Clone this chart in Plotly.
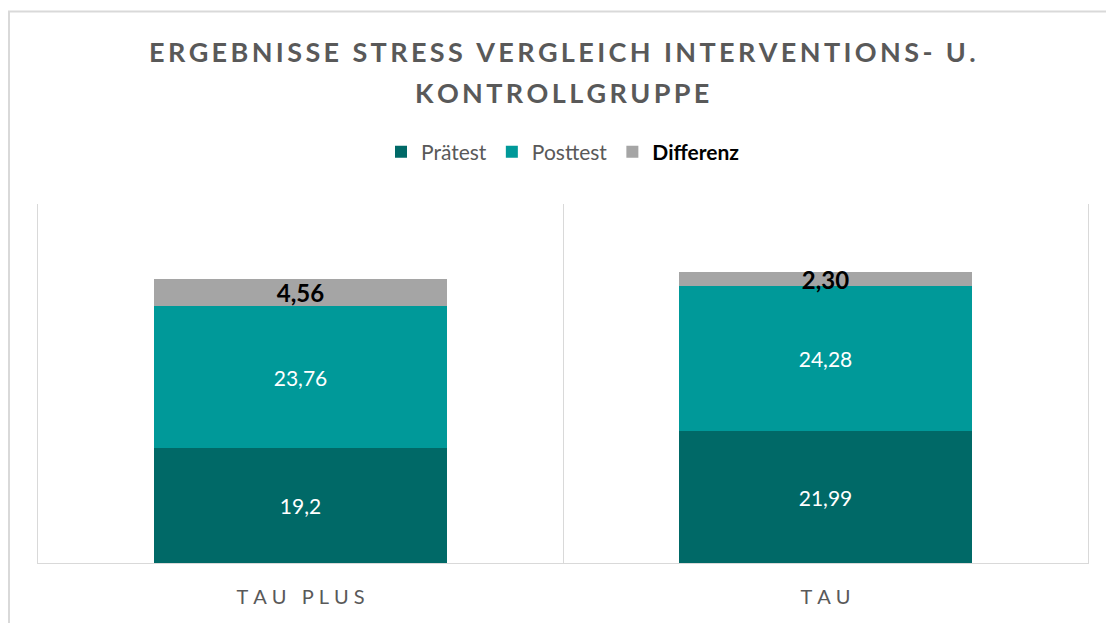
import plotly.graph_objects as go

categories = ["TAU PLUS", "TAU"]
pretest = [19.2, 21.99]
posttest = [23.76, 24.28]
differenz = [4.56, 2.30]
series_names = ["Prätest", "Posttest", "Differenz"]
title_lines = ["ERGEBNISSE STRESS VERGLEICH INTERVENTIONS- U.", "KONTROLLGRUPPE"]

C_PRE = "#006967"
C_POST = "#009999"
C_DIFF = "#A5A5A5"
GRAY_TXT = "#595959"
GRID = "#D9D9D9"
FONT = "Lato"

W, H = 1106, 623
ML, MR, MT, MB = 38, 18, 204, 60
PH = H - MT - MB


def spaced(s, sep="\u2005"):
    return sep.join(list(s))


def py(pix):
    return (H - MB - pix) / PH


def px(pix):
    return (pix - ML) / (W - ML - MR)


fig = go.Figure()
fig.add_trace(go.Bar(
    x=categories, y=pretest, name=series_names[0], marker_color=C_PRE,
    texttemplate="%{y:.2~f}", textposition="inside", insidetextanchor="middle",
    textfont=dict(color="white", size=21, family=FONT), textangle=0,
    marker_line_width=0,
))
fig.add_trace(go.Bar(
    x=categories, y=posttest, name=series_names[1], marker_color=C_POST,
    texttemplate="%{y:.2~f}", textposition="inside", insidetextanchor="middle",
    textfont=dict(color="white", size=21, family=FONT), textangle=0,
    marker_line_width=0,
))
fig.add_trace(go.Bar(
    x=categories, y=differenz, name="<b><span style='color:#000000'>" + series_names[2] + "</span></b>",
    marker_color=C_DIFF,
    texttemplate="<b>%{y:.2f}</b>", textposition="inside", insidetextanchor="middle",
    constraintext="none", cliponaxis=False,
    textfont=dict(color="black", size=24, family=FONT), textangle=0,
    marker_line_width=0,
))

fig.update_layout(
    width=W, height=H,
    barmode="stack", bargap=0.443,
    separators=",.",
    paper_bgcolor="white", plot_bgcolor="white",
    margin=dict(l=ML, r=MR, t=MT, b=MB),
    font=dict(family=FONT, color=GRAY_TXT),
    showlegend=True,
    legend=dict(orientation="h", x=0.5, xanchor="center", y=py(152), yanchor="middle",
                font=dict(size=21, color=GRAY_TXT, family=FONT), itemwidth=30,
                traceorder="normal", tracegroupgap=0),
    xaxis=dict(
        type="category", range=[-0.5, 1.5], showgrid=True, gridcolor=GRID, gridwidth=1,
        tickson="boundaries", ticks="", showline=True, linecolor=GRID, linewidth=1,
        tickvals=categories, ticktext=[spaced(c) for c in categories],
        tickfont=dict(size=20, color=GRAY_TXT, family=FONT), ticklabelstandoff=16,
    ),
    yaxis=dict(range=[0, 60], showgrid=False, showticklabels=False, zeroline=False,
               ticks="", showline=True, linecolor=GRID, linewidth=1, mirror=True),
    shapes=[dict(type="rect", xref="paper", yref="paper",
                 x0=px(9), x1=px(1115), y0=py(632), y1=py(11.5),
                 line=dict(color=GRID, width=2), fillcolor="rgba(0,0,0,0)", layer="below")],
    annotations=[
        dict(text="<b>" + spaced(t, "\u2009") + "</b>", x=px(562), xref="paper", y=py(yy), yref="paper",
             xanchor="center", yanchor="middle", showarrow=False,
             font=dict(size=27, color=GRAY_TXT, family=FONT))
        for t, yy in zip(title_lines, [51, 92])
    ],
)

fig.write_html("out.html", config={"displayModeBar": False},
               post_script="document.body.style.margin='0';document.body.style.overflow='hidden';")
